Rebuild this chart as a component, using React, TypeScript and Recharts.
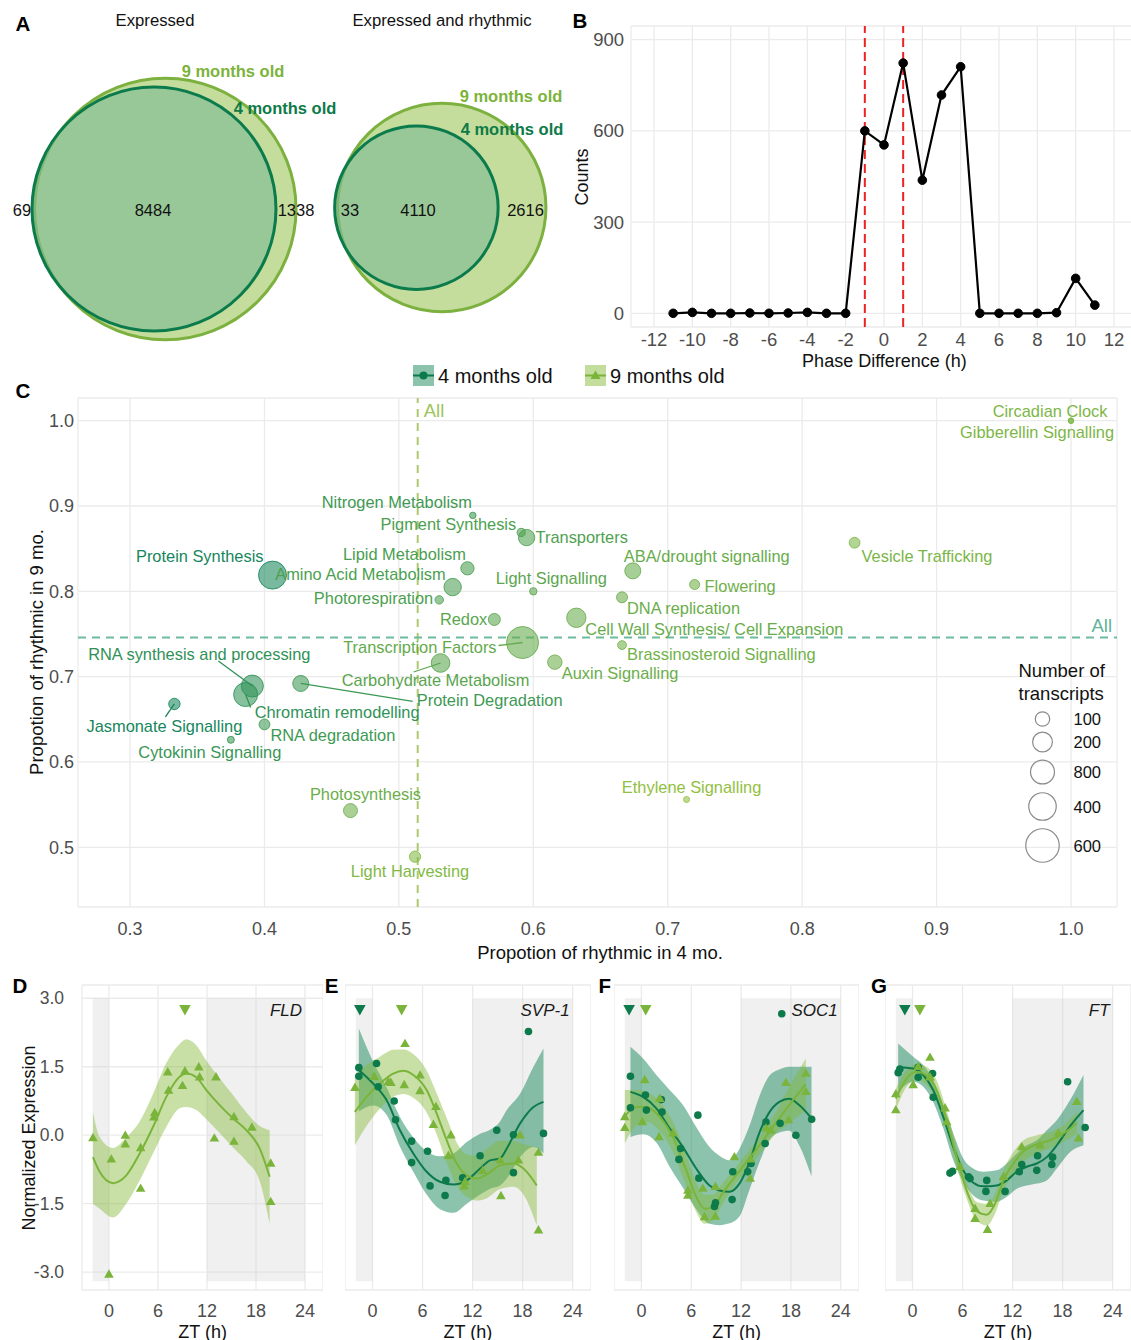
import React from "react";
import {
  Area,
  CartesianGrid,
  ComposedChart,
  Line,
  LineChart,
  ReferenceArea,
  ReferenceLine,
  Scatter,
  ScatterChart,
  XAxis,
  YAxis,
  ZAxis,
} from "recharts";

const FONT = '"Liberation Sans", Arial, Helvetica, sans-serif';
const DARK = "#0c7a4b"; // 4 months old
const LIGHT = "#7bb43a"; // 9 months old
const GRID = "#ebebeb";
const TICK = "#4d4d4d";

// ---------- A: venn diagrams ----------
const expressedCounts = { only4: 69, both: 8484, only9: 1338 };
const rhythmicCounts = { only4: 33, both: 4110, only9: 2616 };

const expressedCircles = [
  { age: 9, x: 165.3, y: 209, n: expressedCounts.both + expressedCounts.only9 },
  { age: 4, x: 154, y: 209, n: expressedCounts.only4 + expressedCounts.both },
];
const rhythmicCircles = [
  { age: 9, x: 121.8, y: 207.5, n: rhythmicCounts.both + rhythmicCounts.only9 },
  { age: 4, x: 96.4, y: 207.7, n: rhythmicCounts.only4 + rhythmicCounts.both },
];
const expressedLabels = [
  { x: 22, y: 210, text: String(expressedCounts.only4), kind: "count" },
  { x: 153, y: 210, text: String(expressedCounts.both), kind: "count" },
  { x: 296, y: 210, text: String(expressedCounts.only9), kind: "count" },
  { x: 233, y: 71, text: "9 months old", kind: "set9" },
  { x: 285, y: 108, text: "4 months old", kind: "set4" },
];
const rhythmicLabels = [
  { x: 30, y: 210, text: String(rhythmicCounts.only4), kind: "count" },
  { x: 98, y: 210, text: String(rhythmicCounts.both), kind: "count" },
  { x: 205.5, y: 210, text: String(rhythmicCounts.only9), kind: "count" },
  { x: 191, y: 96, text: "9 months old", kind: "set9" },
  { x: 192, y: 129, text: "4 months old", kind: "set4" },
];

// ---------- B: phase difference ----------
const phaseHours = [-11, -10, -9, -8, -7, -6, -5, -4, -3, -2, -1, 0, 1, 2, 3, 4, 5, 6, 7, 8, 9, 10, 11];
const phaseCounts = [0, 3, 0, 0, 1, 0, 1, 3, 0, 0, 600, 554, 823, 438, 718, 811, 0, 0, 0, 0, 2, 115, 27];
const phaseTicks = [-12, -10, -8, -6, -4, -2, 0, 2, 4, 6, 8, 10, 12];
const phaseCutoffs = [-1, 1];
const phaseRows = phaseHours.map((d, i) => ({ d, count: phaseCounts[i] }));

// ---------- C: functional categories ----------
const categories = [
  "Nitrogen Metabolism", "Pigment Synthesis", "Transporters", "Lipid Metabolism",
  "Amino Acid Metabolism", "Protein Synthesis", "Photorespiration", "Light Signalling",
  "Redox", "Transcription Factors", "Circadian Clock", "Gibberellin Signalling",
  "Vesicle Trafficking", "ABA/drought signalling", "Flowering", "DNA replication",
  "Cell Wall Synthesis/ Cell Expansion", "Brassinosteroid Signalling", "Auxin Signalling",
  "Carbohydrate Metabolism", "Protein Degradation", "RNA synthesis and processing",
  "Chromatin remodelling", "Jasmonate Signalling", "RNA degradation", "Cytokinin Signalling",
  "Photosynthesis", "Light Harvesting", "Ethylene Signalling",
];
const rhythmic4mo = [
  0.555, 0.591, 0.595, 0.551, 0.54, 0.406, 0.53, 0.6, 0.571, 0.592, 1.0, 1.0, 0.839, 0.674,
  0.72, 0.666, 0.632, 0.666, 0.616, 0.531, 0.427, 0.391, 0.386, 0.333, 0.4, 0.375, 0.464,
  0.512, 0.714,
];
const rhythmic9mo = [
  0.889, 0.869, 0.863, 0.827, 0.805, 0.819, 0.79, 0.8, 0.767, 0.74, 1.0, 1.0, 0.857, 0.824,
  0.808, 0.793, 0.769, 0.737, 0.717, 0.716, 0.692, 0.689, 0.679, 0.668, 0.644, 0.626, 0.543,
  0.489, 0.556,
];
const transcripts = [
  9, 23, 133, 82, 152, 416, 25, 16, 65, 547, 2, 2, 50, 126, 41, 52, 192, 28, 100, 176, 126,
  251, 302, 57, 50, 13, 93, 55, 6,
];
const overallRhythmic4mo = 0.514;
const overallRhythmic9mo = 0.746;
const propTicksX = [0.3, 0.4, 0.5, 0.6, 0.7, 0.8, 0.9, 1.0];
const propTicksY = [0.5, 0.6, 0.7, 0.8, 0.9, 1.0];
const sizeBreaks = [100, 200, 300, 400, 600];
const sizeBreakLabels = ["100", "200", "800", "400", "600"];

const categoryRows = categories.map((name, i) => ({
  name,
  x: rhythmic4mo[i],
  y: rhythmic9mo[i],
  n: transcripts[i],
}));

// label placement around each bubble (px offsets)
const labelPlacement: Record<string, any> = {
  "Nitrogen Metabolism": { dx: -76, dy: -13, anchor: "middle" },
  "Pigment Synthesis": { dx: -5, dy: -8, anchor: "end" },
  Transporters: { dx: 9, dy: -1, anchor: "start" },
  "Lipid Metabolism": { dx: -63, dy: -14, anchor: "middle" },
  "Amino Acid Metabolism": { dx: -7, dy: -13, anchor: "end" },
  "Protein Synthesis": { dx: -9, dy: -19, anchor: "end" },
  Photorespiration: { dx: -6, dy: -2, anchor: "end" },
  "Light Signalling": { dx: 18, dy: -13, anchor: "middle" },
  Redox: { dx: -7, dy: 0, anchor: "end" },
  "Transcription Factors": { dx: -26, dy: 4, anchor: "end", leader: [-24, 3] },
  "Circadian Clock": { dx: -21, dy: -10, anchor: "middle" },
  "Gibberellin Signalling": { dx: -34, dy: 11, anchor: "middle" },
  "Vesicle Trafficking": { dx: 7, dy: 13, anchor: "start" },
  "ABA/drought signalling": { dx: -9, dy: -15, anchor: "start" },
  Flowering: { dx: 10, dy: 1, anchor: "start" },
  "DNA replication": { dx: 5, dy: 11, anchor: "start" },
  "Cell Wall Synthesis/ Cell Expansion": { dx: 9, dy: 11, anchor: "start" },
  "Brassinosteroid Signalling": { dx: 5, dy: 9, anchor: "start" },
  "Auxin Signalling": { dx: 7, dy: 11, anchor: "start" },
  "Carbohydrate Metabolism": { dx: -5, dy: 17, anchor: "middle", leader: [-27, 9] },
  "Protein Degradation": { dx: 116, dy: 17, anchor: "start", leader: [112, 18] },
  "RNA synthesis and processing": { dx: -53, dy: -32, anchor: "middle", leader: [-34, -25] },
  "Chromatin remodelling": { dx: 9, dy: 17, anchor: "start", leader: [5, 13] },
  "Jasmonate Signalling": { dx: -10, dy: 22, anchor: "middle", leader: [-9, 13] },
  "RNA degradation": { dx: 6, dy: 11, anchor: "start" },
  "Cytokinin Signalling": { dx: -21, dy: 12, anchor: "middle" },
  Photosynthesis: { dx: 15, dy: -17, anchor: "middle" },
  "Light Harvesting": { dx: -5, dy: 14, anchor: "middle" },
  "Ethylene Signalling": { dx: 5, dy: -13, anchor: "middle" },
};

// ---------- D-G: expression profiles ----------
const nightPeriods = [[-2, 0], [12, 24]];
const zeitgeberTicks = [0, 6, 12, 18, 24];
const exprTicks = [-3, -1.5, 0, 1.5, 3];

const fldPoints9 = [
  [-1.96, -0.06], [0, -3.05], [0.29, -0.53], [2.0, -0.01], [2.0, -0.2], [3.88, -0.28],
  [3.88, -1.17], [5.6, 0.49], [5.5, 0.39], [7.2, 1.38], [7.3, 0.98], [9.3, 1.4], [9.0, 1.08],
  [11.0, 1.49], [11.1, 1.27], [13.1, 1.27], [12.9, -0.07], [15.3, 0.4], [15.3, -0.14],
  [17.5, 0.17], [19.8, -0.62], [19.8, -1.46],
];
const fldCurve9 = [
  [-1.96, -0.48, -1.5, 0.51], [-1.14, -0.8, -1.61, -0.04], [0.49, -1.05, -1.8, -0.28],
  [2.12, -0.88, -1.5, -0.05], [3.76, -0.4, -0.99, 0.3], [5.39, 0.18, -0.4, 0.9],
  [7.02, 0.84, 0.18, 1.58], [8.65, 1.28, 0.59, 2.0], [9.47, 1.35, 0.62, 2.1],
  [10.69, 1.27, 0.55, 1.97], [11.92, 0.99, 0.35, 1.63], [13.55, 0.66, 0.05, 1.25],
  [15.18, 0.37, -0.27, 0.88], [16.82, 0.11, -0.57, 0.5], [18.45, -0.29, -1.0, 0.2],
  [19.67, -0.91, -1.94, 0.11],
];

const svpPoints4 = [
  [-1.64, 1.48], [-1.64, 1.29], [0.48, 1.57], [0.68, 1.06], [2.6, 0.75], [2.76, 0.34],
  [4.69, -0.13], [4.69, -0.6], [6.6, -0.35], [6.9, -1.11], [8.8, -0.99], [8.7, -1.32],
  [10.8, -0.93], [12.9, -0.45], [14.9, 0.11], [16.9, 0.01], [16.9, -0.82], [18.7, 2.27],
  [20.5, 0.04],
];
const svpPoints9 = [
  [-2.1, 1.04], [0.2, 1.28], [1.9, 1.17], [2.2, 1.15], [3.9, 2.0], [3.8, 1.1], [5.7, 1.31],
  [5.7, 0.97], [7.6, 0.62], [7.3, 0.23], [9.4, 0.0], [9.1, -0.45], [11.0, -1.12],
  [11.1, -1.02], [13.2, -0.78], [15.3, -0.55], [15.4, -1.33], [17.5, -0.55], [17.7, 0.0],
  [19.9, -0.38], [19.9, -2.08],
];
const svpCurve4 = [
  [-1.64, 1.43, 0.52, 2.34], [0.08, 1.13, 0.65, 1.61], [1.68, 0.77, 0.45, 1.05],
  [3.29, 0.11, -0.25, 0.4], [4.89, -0.4, -0.8, -0.05], [6.49, -0.8, -1.3, -0.35],
  [8.09, -1.02, -1.62, -0.46], [9.7, -1.08, -1.7, -0.4], [11.3, -0.99, -1.5, -0.15],
  [12.9, -0.73, -1.3, 0.03], [14.1, -0.55, -1.17, 0.12], [15.3, -0.51, -1.1, 0.3],
  [16.1, -0.29, -0.95, 0.55], [17.7, 0.26, -0.48, 0.91], [19.3, 0.62, -0.26, 1.5],
  [20.5, 0.73, -0.4, 1.9],
];
const svpCurve9 = [
  [-2.12, 0.51, -0.22, 1.32], [-0.72, 0.84, 0.2, 1.54], [0.88, 1.13, 0.58, 1.72],
  [2.48, 1.35, 0.84, 1.87], [3.69, 1.41, 0.9, 1.88], [4.89, 1.32, 0.82, 1.78],
  [6.49, 0.99, 0.5, 1.42], [7.69, 0.48, 0.02, 0.92], [8.89, -0.11, -0.6, 0.38],
  [10.1, -0.62, -1.1, -0.16], [11.3, -0.88, -1.35, -0.42], [12.5, -0.95, -1.43, -0.45],
  [13.7, -0.86, -1.38, -0.3], [15.3, -0.66, -1.18, -0.12], [16.9, -0.62, -1.13, -0.12],
  [18.1, -0.73, -1.3, -0.2], [19.7, -1.1, -1.98, -0.26],
];

const socPoints4 = [
  [-1.32, 1.29], [-1.32, 0.6], [0.48, 0.88], [0.6, 0.55], [2.4, 0.78], [2.48, 0.51],
  [4.72, -0.29], [4.52, -0.53], [6.8, 0.44], [6.92, -0.94], [8.8, -1.56], [8.92, -1.48],
  [10.92, -1.41], [11.0, -0.8], [12.8, -0.8], [13.2, -0.62], [14.9, -0.18], [15.0, 0.29],
  [16.7, 0.26], [18.6, 0.0], [16.9, 2.66], [20.5, 0.35],
];
const socPoints9 = [
  [-2.0, 0.4], [-2.0, 0.16], [0.4, 1.21], [0.12, 0.29], [2.2, 0.8], [2.12, -0.04],
  [3.8, 0.04], [5.6, -1.21], [5.6, -1.32], [7.4, -1.17], [7.6, -1.79], [8.9, -1.78],
  [8.9, -1.13], [11.2, -0.48], [13.1, -0.95], [13.1, -0.53], [15.0, 0.15], [15.6, 0.11],
  [17.4, 1.15], [17.7, 0.33], [19.8, 1.35], [19.8, 0.95],
];
const socCurve4 = [
  [-1.32, 0.95, -0.04, 1.94], [0.2, 0.84, 0.02, 1.68], [1.8, 0.59, -0.16, 1.32],
  [3.4, 0.15, -0.69, 0.99], [5.0, -0.26, -1.15, 0.66], [6.6, -0.73, -1.62, 0.18],
  [8.2, -1.1, -1.94, -0.26], [9.4, -1.21, -1.97, -0.45], [10.6, -1.24, -1.93, -0.55],
  [11.8, -1.06, -1.78, -0.3], [13.0, -0.6, -1.2, 0.2], [14.2, 0.05, -0.6, 0.85],
  [15.4, 0.5, -0.1, 1.3], [16.6, 0.73, 0.06, 1.44], [17.8, 0.8, 0.1, 1.5],
  [19.0, 0.66, -0.22, 1.5], [20.48, 0.37, -0.9, 1.5],
];
const socCurve9 = [
  [-2.0, 0.42, -0.18, 0.99], [-0.6, 0.62, 0.22, 0.99], [0.6, 0.62, 0.29, 0.95],
  [2.2, 0.4, 0.09, 0.73], [3.8, -0.04, -0.37, 0.29], [5.4, -0.77, -1.13, -0.44],
  [6.6, -1.35, -1.68, -1.04], [7.6, -1.61, -1.94, -1.3], [8.6, -1.58, -1.87, -1.3],
  [9.8, -1.26, -1.5, -1.04], [11.4, -0.88, -1.06, -0.69], [13.0, -0.51, -0.69, -0.33],
  [14.6, -0.13, -0.33, 0.07], [16.2, 0.27, 0.04, 0.51], [17.8, 0.66, 0.26, 1.06],
  [19.8, 1.12, 0.55, 1.68],
];

const ftPoints4 = [
  [-1.72, 1.37], [-1.52, 1.45], [0.68, 1.49], [0.68, 1.27], [2.4, 1.35], [2.48, 0.83],
  [4.49, -0.83], [4.8, -0.79], [6.7, -0.91], [6.9, -0.95], [8.9, -0.99], [8.8, -1.23],
  [11.1, -1.23], [12.8, -0.8], [13.1, -0.64], [14.9, -0.77], [15.0, -0.45], [16.7, -0.64],
  [16.8, -0.48], [18.6, 1.17], [20.7, 0.17],
];
const ftPoints9 = [
  [-2.0, 0.9], [-2.0, 0.55], [0.08, 1.1], [0.68, 1.5], [2.1, 1.7], [2.1, 1.27], [3.9, 0.59],
  [4.1, 0.29], [5.7, -0.69], [7.5, -1.61], [7.5, -1.83], [9.0, -2.07], [9.3, -1.5],
  [10.9, -0.91], [13.1, -0.26], [15.3, -0.22], [17.5, 0.04], [19.7, 0.73], [19.9, -0.07],
];
const ftCurve4 = [
  [-1.72, 1.49, 0.95, 2.01], [0.08, 1.46, 1.17, 1.72], [1.28, 1.32, 1.06, 1.54],
  [2.48, 0.99, 0.73, 1.21], [3.69, 0.4, 0.15, 0.66], [4.89, -0.26, -0.55, 0.04],
  [6.09, -0.77, -1.02, -0.51], [7.29, -1.04, -1.32, -0.73], [8.49, -1.12, -1.43, -0.8],
  [10.1, -1.1, -1.46, -0.77], [11.3, -0.99, -1.35, -0.62], [12.5, -0.8, -1.17, -0.4],
  [13.7, -0.69, -1.1, -0.22], [14.9, -0.62, -1.06, -0.11], [16.1, -0.48, -0.99, 0.11],
  [17.3, -0.22, -0.73, 0.33], [18.9, 0.2, -0.37, 0.77], [20.5, 0.55, -0.22, 1.32],
];
const ftCurve9 = [
  [-2.0, 0.8, 0.55, 1.02], [-0.72, 1.24, 1.06, 1.43], [0.48, 1.39, 1.21, 1.56],
  [1.68, 1.31, 1.1, 1.5], [2.88, 0.99, 0.77, 1.21], [4.09, 0.33, 0.11, 0.55],
  [5.29, -0.48, -0.69, -0.26], [6.49, -1.21, -1.39, -1.02], [7.69, -1.66, -1.87, -1.46],
  [8.89, -1.74, -1.98, -1.5], [9.9, -1.5, -1.72, -1.28], [10.9, -0.99, -1.21, -0.77],
  [12.1, -0.62, -0.88, -0.37], [13.3, -0.35, -0.59, -0.11], [14.9, -0.2, -0.4, 0.0],
  [16.5, -0.11, -0.29, 0.07], [18.1, 0.04, -0.15, 0.22], [19.7, 0.27, 0.04, 0.51],
];

// peak phase of each age group (ZT h)
const fldPhases = [{ t: 9.3, age: 9 }];
const svpPhases = [{ t: -1.52, age: 4 }, { t: 3.49, age: 9 }];
const socPhases = [{ t: -1.48, age: 4 }, { t: 0.52, age: 9 }];
const ftPhases = [{ t: -0.92, age: 4 }, { t: 0.88, age: 9 }];

const makeCurve = (rows: number[][]) => rows.map(([t, fit, lo, hi]) => ({ t, fit, band: [lo, hi] }));
const makePoints = (rows: number[][]) => rows.map(([t, v]) => ({ t, v }));

// ---------- shapes ----------
const mix = (a: number[], b: number[], t: number) =>
  "#" + a.map((c, i) => Math.round(c + (b[i] - c) * t).toString(16).padStart(2, "0")).join("");

// colour categories by how much more rhythmic they are at 9 months
const ratioColor = (x: number, y: number) => {
  const t = Math.min(1, Math.max(0, (y / x - 0.8) / 1.2));
  return mix([146, 192, 66], [22, 134, 92], t);
};

const VennCircle = (p: any) => {
  const r = p.size != null ? Math.sqrt(p.size / Math.PI) : p.width / 2;
  const young = p.payload.age === 4;
  return (
    <circle
      cx={p.cx}
      cy={p.cy}
      r={r}
      fill={young ? "#7dba95" : "#c4dd9d"}
      fillOpacity={young ? 0.6 : 1}
      stroke={young ? "#0b7b4c" : "#7db13f"}
      strokeWidth={3}
    />
  );
};

const VennText = (p: any) => {
  const k = p.payload.kind;
  return (
    <text
      x={p.cx}
      y={p.cy}
      textAnchor="middle"
      dominantBaseline="central"
      fontSize={16.5}
      fontWeight={k === "count" ? 400 : 700}
      fill={k === "count" ? "#111" : k === "set4" ? "#0d7a47" : "#7cb33a"}
    >
      {p.payload.text}
    </text>
  );
};

const Bubble = (p: any) => {
  const r = p.size != null ? Math.sqrt(p.size / Math.PI) : p.width / 2;
  const c = ratioColor(p.payload.x, p.payload.y);
  return <circle cx={p.cx} cy={p.cy} r={r} fill={c} fillOpacity={0.58} stroke={c} strokeOpacity={0.85} strokeWidth={1} />;
};

const BubbleLabel = (p: any) => {
  const place = labelPlacement[p.payload.name];
  const c = ratioColor(p.payload.x, p.payload.y);
  return (
    <g>
      {place.leader && (
        <line
          x1={p.cx + place.leader[0]}
          y1={p.cy + place.leader[1]}
          x2={p.cx}
          y2={p.cy}
          stroke={c}
          strokeWidth={1.3}
        />
      )}
      <text
        x={p.cx + place.dx}
        y={p.cy + place.dy}
        textAnchor={place.anchor}
        dominantBaseline="central"
        fontSize={16.4}
        fill={c}
      >
        {p.payload.name}
      </text>
    </g>
  );
};

const Dot4 = (p: any) => <circle cx={p.cx} cy={p.cy} r={3.8} fill={DARK} />;
const Tri9 = (p: any) => (
  <path d={`M${p.cx},${p.cy - 5.2}L${p.cx + 4.8},${p.cy + 3.2}L${p.cx - 4.8},${p.cy + 3.2}Z`} fill={LIGHT} />
);
const PhaseMark = (p: any) => (
  <path
    d={`M${p.cx - 5.8},${p.cy - 5}L${p.cx + 5.8},${p.cy - 5}L${p.cx},${p.cy + 5.5}Z`}
    fill={p.payload.age === 4 ? DARK : LIGHT}
  />
);
const GeneTag = (p: any) => (
  <text x={p.cx - 3} y={p.cy} textAnchor="end" dominantBaseline="central" fontStyle="italic" fontSize={17} fill="#1a1a1a">
    {p.payload.gene}
  </text>
);

const tickStyle = (size: number) => ({ fontSize: size, fill: TICK, fontFamily: FONT });

// ---------- panels ----------
function VennPanel({ left, width, circles, labels, areaRange }: any) {
  return (
    <div style={{ position: "absolute", left, top: 0 }}>
      <ScatterChart width={width} height={350} margin={{ top: 0, right: 0, bottom: 0, left: 0 }}>
        <XAxis type="number" dataKey="x" domain={[0, width]} hide />
        <YAxis type="number" dataKey="y" domain={[0, 350]} reversed hide />
        <ZAxis type="number" dataKey="n" domain={[0, 10000]} range={areaRange} />
        <Scatter data={circles} shape={VennCircle} isAnimationActive={false} />
        <Scatter data={labels} shape={VennText} isAnimationActive={false} />
      </ScatterChart>
    </div>
  );
}

function ExpressionPanel({ left, width, showY, gene, curves, points, phases }: any) {
  return (
    <div style={{ position: "absolute", left, top: 970 }}>
      <ComposedChart width={width} height={370} margin={{ top: 15, right: 0, bottom: 0, left: 0 }}>
        <CartesianGrid stroke={GRID} strokeWidth={1.3} />
        <XAxis
          type="number"
          dataKey="t"
          domain={[-3.3, 26.2]}
          ticks={zeitgeberTicks}
          allowDataOverflow
          height={50}
          tickLine={false}
          axisLine={false}
          tickSize={0}
          tickMargin={14}
          tick={tickStyle(18)}
        />
        <YAxis
          type="number"
          domain={[-3.39, 3.29]}
          ticks={exprTicks}
          allowDataOverflow
          width={showY ? 82 : 0}
          tick={showY ? tickStyle(17.5) : false}
          tickFormatter={(v: number) => v.toFixed(1)}
          tickLine={false}
          axisLine={false}
          tickSize={0}
          tickMargin={18}
        />
        {nightPeriods.map(([a, b]) => (
          <ReferenceArea key={a} x1={a} x2={b} y1={-3.2} y2={3} fill="#cfcfcf" fillOpacity={0.32} stroke="none" />
        ))}
        {curves.map((c: any, i: number) => (
          <Area
            key={`band${i}`}
            data={makeCurve(c.rows)}
            dataKey="band"
            type="monotone"
            fill={c.band}
            fillOpacity={c.opacity}
            stroke="none"
            isAnimationActive={false}
          />
        ))}
        {curves.map((c: any, i: number) => (
          <Line
            key={`fit${i}`}
            data={makeCurve(c.rows)}
            dataKey="fit"
            type="monotone"
            stroke={c.color}
            strokeWidth={2}
            dot={false}
            isAnimationActive={false}
          />
        ))}
        {points.map((s: any, i: number) => (
          <Scatter key={`pts${i}`} data={makePoints(s.rows)} dataKey="v" shape={s.shape} isAnimationActive={false} />
        ))}
        <Scatter data={phases.map((p: any) => ({ ...p, v: 2.74 }))} dataKey="v" shape={PhaseMark} isAnimationActive={false} />
        <Scatter data={[{ t: 24, v: 2.74, gene }]} dataKey="v" shape={GeneTag} isAnimationActive={false} />
      </ComposedChart>
    </div>
  );
}

const band4 = { color: DARK, band: "#17875a", opacity: 0.5 };
const band9 = { color: LIGHT, band: "#86bb3a", opacity: 0.45 };

export default function App() {
  const sizeR = (n: number) => Math.sqrt((20 + (860 / 600) * n) / Math.PI);
  const sizeY = [719, 742, 772, 806.5, 845.5];
  return (
    <div
      style={{
        position: "absolute",
        left: 0,
        top: 0,
        width: 1131,
        height: 1340,
        background: "#fff",
        overflow: "hidden",
        fontFamily: FONT,
      }}
    >
      {/* A */}
      <VennPanel left={0} width={345} circles={expressedCircles} labels={expressedLabels} areaRange={[0, 54660]} />
      <VennPanel left={320} width={251} circles={rhythmicCircles} labels={rhythmicLabels} areaRange={[0, 50670]} />

      {/* B */}
      <div style={{ position: "absolute", left: 570, top: 0 }}>
        <LineChart width={567} height={380} data={phaseRows} margin={{ top: 26, right: 0, bottom: 0, left: 0 }}>
          <CartesianGrid stroke={GRID} strokeWidth={1.3} />
          <XAxis
            type="number"
            dataKey="d"
            domain={[-13.2, 13.2]}
            ticks={phaseTicks}
            allowDataOverflow
            height={53}
            tickLine={false}
            axisLine={false}
            tickSize={0}
            tickMargin={6}
            tick={tickStyle(18.5)}
          />
          <YAxis
            type="number"
            domain={[-45, 945]}
            ticks={[0, 300, 600, 900]}
            allowDataOverflow
            width={61}
            tickLine={false}
            axisLine={false}
            tickSize={0}
            tickMargin={7}
            tick={tickStyle(18.5)}
          />
          {phaseCutoffs.map((h) => (
            <ReferenceLine key={h} x={h} stroke="#ee2222" strokeWidth={2} strokeDasharray="9 5" />
          ))}
          <Line
            dataKey="count"
            stroke="#000"
            strokeWidth={2.2}
            dot={{ r: 4.3, fill: "#000", stroke: "#000", strokeWidth: 1 }}
            isAnimationActive={false}
          />
        </LineChart>
      </div>

      {/* C */}
      <div style={{ position: "absolute", left: 0, top: 360 }}>
        <ScatterChart width={1131} height={610} margin={{ top: 38, right: 14, bottom: 0, left: 0 }}>
          <CartesianGrid stroke={GRID} strokeWidth={1.3} />
          <XAxis
            type="number"
            dataKey="x"
            domain={[0.2613, 1.0342]}
            ticks={propTicksX}
            allowDataOverflow
            height={63}
            tickFormatter={(v: number) => v.toFixed(1)}
            tickLine={false}
            axisLine={false}
            tickSize={0}
            tickMargin={15}
            tick={tickStyle(18)}
          />
          <YAxis
            type="number"
            dataKey="y"
            domain={[0.43, 1.0266]}
            ticks={propTicksY}
            allowDataOverflow
            width={78}
            tickFormatter={(v: number) => v.toFixed(1)}
            tickLine={false}
            axisLine={false}
            tickSize={0}
            tickMargin={4}
            tick={tickStyle(18)}
          />
          <ZAxis type="number" dataKey="n" domain={[0, 600]} range={[20, 880]} />
          <ReferenceLine
            x={overallRhythmic4mo}
            stroke="#abc96d"
            strokeWidth={2}
            strokeDasharray="8 6"
            label={{ value: "All", position: "insideTopLeft", offset: 6, fill: "#9cc45a", fontSize: 18.5 }}
          />
          <ReferenceLine
            y={overallRhythmic9mo}
            stroke="#6cbb9c"
            strokeWidth={2}
            strokeDasharray="8 6"
            label={{ value: "All", position: "insideBottomRight", offset: 5, fill: "#5fb39a", fontSize: 18.5 }}
          />
          <Scatter data={categoryRows} shape={Bubble} isAnimationActive={false} />
          <Scatter data={categoryRows} shape={BubbleLabel} isAnimationActive={false} />
        </ScatterChart>
      </div>

      {/* D-G */}
      <ExpressionPanel
        left={0}
        width={323}
        showY
        gene="FLD"
        curves={[{ ...band9, rows: fldCurve9 }]}
        points={[{ rows: fldPoints9, shape: Tri9 }]}
        phases={fldPhases}
      />
      <ExpressionPanel
        left={345}
        width={246}
        gene="SVP-1"
        curves={[{ ...band4, rows: svpCurve4 }, { ...band9, rows: svpCurve9 }]}
        points={[{ rows: svpPoints4, shape: Dot4 }, { rows: svpPoints9, shape: Tri9 }]}
        phases={svpPhases}
      />
      <ExpressionPanel
        left={614}
        width={245}
        gene="SOC1"
        curves={[{ ...band4, rows: socCurve4 }, { ...band9, rows: socCurve9 }]}
        points={[{ rows: socPoints4, shape: Dot4 }, { rows: socPoints9, shape: Tri9 }]}
        phases={socPhases}
      />
      <ExpressionPanel
        left={885}
        width={246}
        gene="FT"
        curves={[{ ...band4, rows: ftCurve4 }, { ...band9, rows: ftCurve9 }]}
        points={[{ rows: ftPoints4, shape: Dot4 }, { rows: ftPoints9, shape: Tri9 }]}
        phases={ftPhases}
      />

      {/* titles, panel letters and legends */}
      <svg
        width={1131}
        height={1340}
        style={{ position: "absolute", left: 0, top: 0, pointerEvents: "none" }}
        fontFamily={FONT}
      >
        <g fontWeight={700} fontSize={20.5} fill="#000" dominantBaseline="central" textAnchor="middle">
          <text x={23} y={23}>A</text>
          <text x={580} y={20}>B</text>
          <text x={23} y={390}>C</text>
          <text x={20} y={985}>D</text>
          <text x={331.5} y={985}>E</text>
          <text x={604.7} y={985}>F</text>
          <text x={879} y={985}>G</text>
        </g>
        <g fontSize={16.7} fill="#111" dominantBaseline="central" textAnchor="middle">
          <text x={155} y={20}>Expressed</text>
          <text x={442} y={20}>Expressed and rhythmic</text>
        </g>
        <g fontSize={18} fill="#111" dominantBaseline="central" textAnchor="middle">
          <text x={581.5} y={177} transform="rotate(-90 581.5 177)">Counts</text>
          <text x={884.5} y={361}>Phase Difference (h)</text>
          <text x={600} y={952} fontSize={18.5}>Propotion of rhythmic in 4 mo.</text>
          <text x={36} y={652} fontSize={18.5} transform="rotate(-90 36 652)">Propotion of rhythmic in 9 mo.</text>
          <text x={29} y={1138} transform="rotate(-90 29 1138)">Normalized Expression</text>
          {[202.6, 467.9, 736.7, 1008].map((x) => (
            <text key={x} x={x} y={1331.5}>ZT (h)</text>
          ))}
        </g>

        {/* age legend */}
        <rect x={413} y={365} width={21} height={21} fill="#17875a" fillOpacity={0.5} />
        <line x1={413} y1={375.5} x2={434} y2={375.5} stroke={DARK} strokeWidth={2} />
        <circle cx={423.5} cy={375.5} r={4} fill={DARK} />
        <text x={438} y={376} fontSize={20} fill="#111" dominantBaseline="central">4 months old</text>
        <rect x={585} y={365} width={21} height={21} fill="#86bb3a" fillOpacity={0.5} />
        <line x1={585} y1={375.5} x2={606} y2={375.5} stroke={LIGHT} strokeWidth={2} />
        <path d="M595.5,370.5L600.5,379L590.5,379Z" fill={LIGHT} />
        <text x={610} y={376} fontSize={20} fill="#111" dominantBaseline="central">9 months old</text>

        {/* bubble size legend */}
        <text x={1018.5} y={670} fontSize={18.5} fill="#111" dominantBaseline="central">Number of</text>
        <text x={1018.5} y={693} fontSize={18.5} fill="#111" dominantBaseline="central">transcripts</text>
        {sizeBreaks.map((n, i) => (
          <g key={n}>
            <circle cx={1042.5} cy={sizeY[i]} r={sizeR(n)} fill="none" stroke="#8a8a8a" strokeWidth={1.2} />
            <text x={1073.5} y={sizeY[i]} fontSize={16.5} fill="#111" dominantBaseline="central">
              {sizeBreakLabels[i]}
            </text>
          </g>
        ))}
      </svg>
    </div>
  );
}
